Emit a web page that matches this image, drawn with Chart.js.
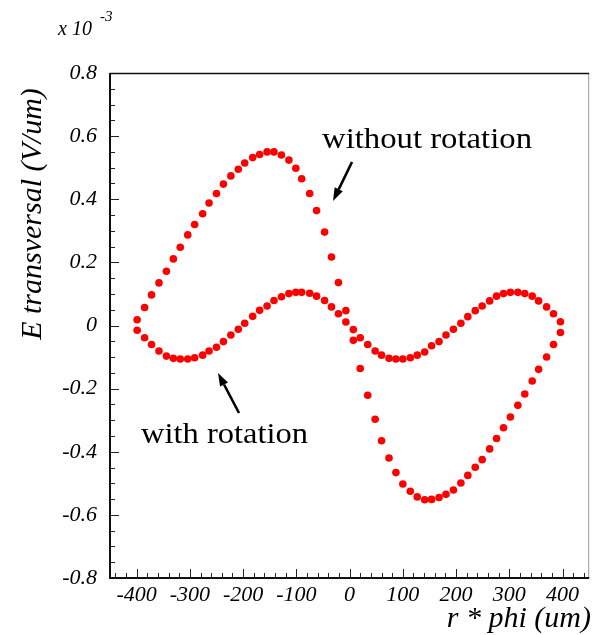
<!DOCTYPE html>
<html>
<head>
<meta charset="utf-8">
<script src="https://cdn.jsdelivr.net/npm/chart.js@4.4.1/dist/chart.umd.min.js"></script>
<style>
  html, body { margin: 0; padding: 0; background: #fff; }
  #wrap { width: 593px; height: 635px; }
</style>
</head>
<body>
<div id="wrap"><canvas id="fieldChart" width="593" height="635"></canvas></div>
<script>
// r*phi positions (um) of the sampled points
const rPhi = [-399, -385, -372, -358, -344, -331, -318, -304, -291, -276,
              -264, -250, -237, -223, -209, -197, -182, -169, -155, -142,
              -128, -114, -101, -90, -75, -62, -47, -34, -21, -7,
              7, 20, 34, 48, 60, 74, 87, 100, 114, 127,
              141, 154, 168, 181, 195, 209, 222, 236, 249, 263,
              276, 289, 302, 316, 329, 343, 355, 370, 383, 396];

// transverse field, in units of 1e-3 V/um
const eWithoutRot = [0.018, 0.057, 0.097, 0.135, 0.172, 0.211, 0.248, 0.287, 0.320, 0.354,
                     0.388, 0.418, 0.448, 0.474, 0.495, 0.515, 0.532, 0.542, 0.550, 0.550,
                     0.540, 0.524, 0.498, 0.465, 0.418, 0.364, 0.296, 0.217, 0.136, 0.047,
                     -0.047, -0.136, -0.221, -0.297, -0.365, -0.420, -0.466, -0.502, -0.525, -0.543,
                     -0.552, -0.551, -0.545, -0.535, -0.521, -0.499, -0.475, -0.449, -0.425, -0.391,
                     -0.358, -0.324, -0.290, -0.253, -0.217, -0.176, -0.139, -0.100, -0.060, -0.022];

const eWithRot = [-0.015, -0.039, -0.060, -0.081, -0.097, -0.104, -0.106, -0.106, -0.102, -0.094,
                  -0.081, -0.069, -0.051, -0.030, -0.012, 0.007, 0.029, 0.048, 0.062, 0.079,
                  0.091, 0.101, 0.105, 0.105, 0.102, 0.093, 0.079, 0.059, 0.037, 0.011,
                  -0.013, -0.039, -0.060, -0.081, -0.094, -0.104, -0.106, -0.106, -0.102, -0.094,
                  -0.084, -0.064, -0.051, -0.030, -0.012, 0.007, 0.028, 0.047, 0.062, 0.078,
                  0.093, 0.101, 0.105, 0.105, 0.101, 0.093, 0.078, 0.059, 0.037, 0.012];

const xTickValues = [-400, -300, -200, -100, 0, 100, 200, 300, 400];
const xTickLabels = ['-400', '-300', '-200', '-100', '0', '100', '200', '300', '400'];
const yTickValues = [-0.8, -0.6, -0.4, -0.2, 0, 0.2, 0.4, 0.6, 0.8];
const yTickLabels = ['-0.8', '-0.6', '-0.4', '-0.2', '0', '0.2', '0.4', '0.6', '0.8'];

const serif = "'Liberation Serif', 'Times New Roman', serif";

function toPoints(ys) {
    return rPhi.map((x, i) => ({ x: x, y: ys[i] }));
}

// stretched serif text, so labels keep their width
function drawFitText(ctx, text, left, baseline, width, size) {
    ctx.save();
    ctx.font = size + 'px ' + serif;
    let w = ctx.measureText(text).width;
    ctx.translate(left, baseline);
    ctx.scale(width / w, 1);
    ctx.textAlign = 'left';
    ctx.textBaseline = 'alphabetic';
    ctx.fillStyle = '#000';
    ctx.fillText(text, 0, 0);
    ctx.restore();
}

function drawArrow(ctx, x0, y0, x1, y1) {
    let ang = Math.atan2(y1 - y0, x1 - x0);
    let headLen = 13, headHalf = 4.5;
    let bx = x1 - headLen * Math.cos(ang), by = y1 - headLen * Math.sin(ang);
    ctx.save();
    ctx.strokeStyle = '#000';
    ctx.fillStyle = '#000';
    ctx.lineWidth = 2.6;
    ctx.beginPath();
    ctx.moveTo(x0, y0);
    ctx.lineTo(bx, by);
    ctx.stroke();
    ctx.beginPath();
    ctx.moveTo(x1, y1);
    ctx.lineTo(bx + headHalf * Math.sin(ang), by - headHalf * Math.cos(ang));
    ctx.lineTo(bx - headHalf * Math.sin(ang), by + headHalf * Math.cos(ang));
    ctx.closePath();
    ctx.fill();
    ctx.restore();
}

// frame, inward ticks, titles and the two annotations
const rootFrame = {
    id: 'rootFrame',
    afterDraw(chart) {
        const ctx = chart.ctx;
        const a = chart.chartArea;
        const xs = chart.scales.x, ys = chart.scales.y;

        ctx.save();
        // ticks
        ctx.strokeStyle = '#222';
        ctx.lineWidth = 1;
        for (let v = -440; v <= 440; v += 20) {
            let px = Math.round(xs.getPixelForValue(v)) + 0.5;
            let len = (v % 100 === 0) ? 9 : 5;
            ctx.beginPath();
            ctx.moveTo(px, a.bottom);
            ctx.lineTo(px, a.bottom - len);
            ctx.stroke();
        }
        for (let k = -16; k <= 16; k++) {
            let v = k * 0.05;
            let py = Math.round(ys.getPixelForValue(v)) + 0.5;
            let len = (k % 4 === 0) ? 9 : 5;
            ctx.beginPath();
            ctx.moveTo(a.left, py);
            ctx.lineTo(a.left + len, py);
            ctx.stroke();
        }

        // frame box
        ctx.strokeStyle = '#999';
        ctx.lineWidth = 1;
        ctx.beginPath();
        ctx.moveTo(a.right - 0.5, a.top);
        ctx.lineTo(a.right - 0.5, a.bottom);
        ctx.stroke();
        ctx.strokeStyle = '#111';
        ctx.lineWidth = 1.5;
        ctx.beginPath();
        ctx.moveTo(a.left, a.top + 0.5);
        ctx.lineTo(a.right, a.top + 0.5);
        ctx.stroke();
        ctx.lineWidth = 2;
        ctx.beginPath();
        ctx.moveTo(a.left, a.top);
        ctx.lineTo(a.left, a.bottom);
        ctx.lineTo(a.right, a.bottom);
        ctx.stroke();

        // axis titles
        ctx.fillStyle = '#000';
        ctx.font = 'italic 30px ' + serif;
        ctx.textAlign = 'right';
        ctx.textBaseline = 'alphabetic';
        ctx.fillText('r * phi (um)', 591, 627);

        ctx.save();
        ctx.translate(41, 214);
        ctx.rotate(-Math.PI / 2);
        ctx.textAlign = 'center';
        ctx.fillText('E transversal (V/um)', 0, 0);
        ctx.restore();

        // exponent of the y axis
        ctx.font = 'italic 20px ' + serif;
        ctx.textAlign = 'left';
        ctx.fillText('x 10', 58, 35);
        ctx.font = 'italic 15px ' + serif;
        ctx.fillText('-3', 100, 21);

        // annotations
        drawFitText(ctx, 'without rotation', 322, 148, 210, 29);
        drawFitText(ctx, 'with rotation', 141, 443, 167, 29);
        drawArrow(ctx, 352, 162, 333, 201);
        drawArrow(ctx, 239, 413, 218, 373);
        ctx.restore();
    }
};

const ctx = document.getElementById('fieldChart').getContext('2d');
new Chart(ctx, {
    type: 'scatter',
    data: {
        datasets: [
            { label: 'without rotation', data: toPoints(eWithoutRot) },
            { label: 'with rotation', data: toPoints(eWithRot) }
        ]
    },
    options: {
        responsive: false,
        animation: false,
        devicePixelRatio: 1,
        layout: { padding: { top: 73, right: 1, left: 0, bottom: 0 } },
        elements: {
            point: { radius: 3.8, backgroundColor: '#ff0000', borderWidth: 0, hoverRadius: 3.8 }
        },
        plugins: {
            legend: { display: false },
            tooltip: { enabled: false }
        },
        scales: {
            x: {
                type: 'linear',
                min: -450,
                max: 450,
                afterBuildTicks: (scale) => { scale.ticks = xTickValues.map(v => ({ value: v })); },
                afterFit: (scale) => { scale.height = 57; },
                grid: { display: false, drawTicks: false },
                border: { display: false },
                ticks: {
                    padding: 4,
                    color: '#000',
                    maxRotation: 0,
                    font: { family: serif, style: 'italic', size: 22 },
                    callback: (v, i) => xTickLabels[i]
                }
            },
            y: {
                type: 'linear',
                min: -0.8,
                max: 0.8,
                afterBuildTicks: (scale) => { scale.ticks = yTickValues.map(v => ({ value: v })); },
                afterFit: (scale) => { scale.width = 110; },
                grid: { display: false, drawTicks: false },
                border: { display: false },
                ticks: {
                    padding: 13,
                    color: '#000',
                    font: { family: serif, style: 'italic', size: 22 },
                    callback: (v, i) => yTickLabels[i]
                }
            }
        }
    },
    plugins: [rootFrame]
});
</script>
</body>
</html>
